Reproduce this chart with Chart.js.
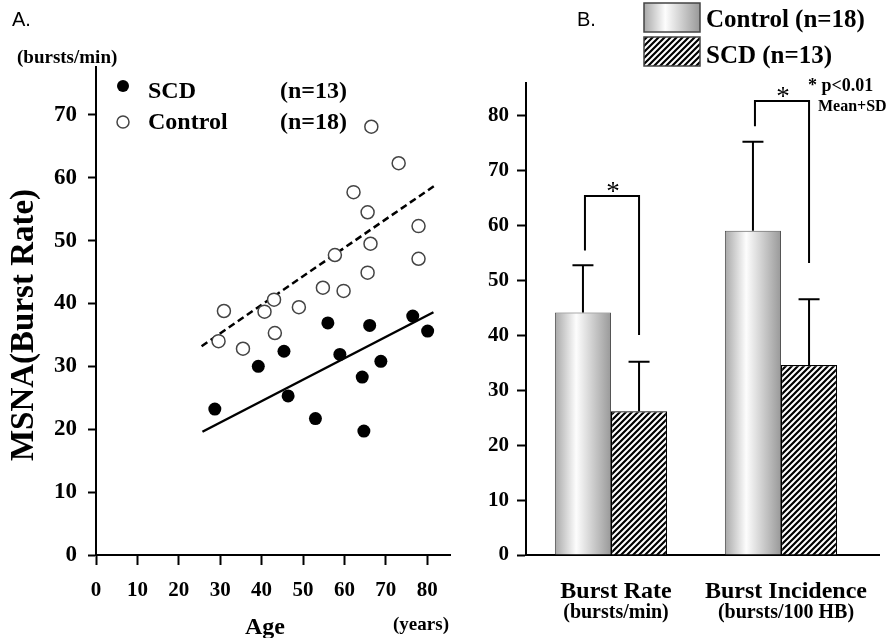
<!DOCTYPE html>
<html>
<head>
<meta charset="utf-8">
<script src="https://cdn.jsdelivr.net/npm/chart.js@4.4.1/dist/chart.umd.min.js"></script>
<style>
  html, body { margin: 0; padding: 0; background: #fff; }
  #wrap { position: relative; width: 894px; height: 638px; overflow: hidden; }
  canvas { position: absolute; top: 0; }
  #left { left: 0; }
  #right { left: 480px; }
</style>
</head>
<body>
<div id="wrap">
  <canvas id="left" width="480" height="638"></canvas>
  <canvas id="right" width="414" height="638"></canvas>
</div>
<script>
// panel A - MSNA burst rate vs age
const scdAge = [28.7, 39.2, 45.4, 46.4, 53.0, 56.0, 58.9, 64.3, 64.7, 66.1, 68.8, 76.5, 80.1];
const scdRate = [23.2, 30.0, 32.4, 25.3, 21.7, 36.9, 31.9, 28.3, 19.7, 36.5, 30.8, 38.0, 35.6];
const controlAge = [66.5, 73.1, 62.2, 65.6, 77.9, 66.3, 57.7, 77.9, 65.6, 54.8, 59.8, 49.0, 43.0, 30.9, 40.7, 43.2, 29.6, 35.5];
const controlRate = [68.1, 62.3, 57.7, 54.5, 52.3, 49.5, 47.7, 47.1, 44.9, 42.5, 42.0, 39.4, 40.6, 38.8, 38.7, 35.3, 34.0, 32.8];
const scdFitAge = [25.7, 81.5];
const scdFit = [19.6, 38.6];
const controlFitAge = [25.5, 81.7];
const controlFit = [33.2, 58.7];

// panel B - group means + SD
const groups = ['Burst Rate', 'Burst Incidence'];
const groupUnits = ['(bursts/min)', '(bursts/100 HB)'];
const controlMean = [44.2, 59.1];
const controlSD = [8.6, 16.2];
const scdMean = [26.2, 34.6];
const scdSD = [9.0, 12.0];
const bracketTop = [65.4, 82.7];
const bracketLeftEnd = [55.5, 78.1];
const bracketRightEnd = [40.1, 53.2];

const serif = '"Liberation Serif", "Times New Roman", serif';
const sans = '"Liberation Sans", Arial, sans-serif';
Chart.defaults.font.family = serif;
Chart.defaults.color = '#000';

const pts = (xs, ys) => xs.map((x, i) => ({ x: x, y: ys[i] }));

const axisTicks = (len) => ({ drawOnChartArea: false, tickLength: len, tickColor: '#000', tickWidth: 2 });
const axisBorder = { color: '#000', width: 2 };

const panelA = {
  id: 'panelA',
  afterDraw(chart) {
    const ctx = chart.ctx;
    ctx.save();
    ctx.fillStyle = '#000';
    ctx.textBaseline = 'alphabetic';
    ctx.textAlign = 'left';
    ctx.font = '20px ' + sans;
    ctx.fillText('A.', 12, 26);
    ctx.font = 'bold 19px ' + serif;
    ctx.fillText('(bursts/min)', 17, 63);

    // legend
    ctx.beginPath();
    ctx.arc(123, 86, 6, 0, Math.PI * 2);
    ctx.fill();
    ctx.beginPath();
    ctx.arc(123, 122, 6, 0, Math.PI * 2);
    ctx.fillStyle = '#fff';
    ctx.fill();
    ctx.strokeStyle = '#444';
    ctx.lineWidth = 1.5;
    ctx.stroke();
    ctx.fillStyle = '#000';
    ctx.font = 'bold 24px ' + serif;
    ctx.fillText('SCD', 148, 98);
    ctx.fillText('(n=13)', 280, 98);
    ctx.fillText('Control', 148, 129);
    ctx.fillText('(n=18)', 280, 129);

    // axis titles
    ctx.textAlign = 'center';
    ctx.font = 'bold 24px ' + serif;
    ctx.fillText('Age', 265, 634);
    ctx.font = 'bold 19px ' + serif;
    ctx.fillText('(years)', 421, 630);

    ctx.translate(24, 325);
    ctx.rotate(-Math.PI / 2);
    ctx.textBaseline = 'middle';
    ctx.font = 'bold 33px ' + serif;
    ctx.fillText('MSNA(Burst Rate)', 0, 0);
    ctx.restore();
  }
};

new Chart(document.getElementById('left'), {
  type: 'scatter',
  data: {
    datasets: [
      { label: 'SCD', data: pts(scdAge, scdRate), pointRadius: 6.5, pointBackgroundColor: '#000', pointBorderColor: '#000', pointBorderWidth: 0 },
      { label: 'Control', data: pts(controlAge, controlRate), pointRadius: 6.5, pointBackgroundColor: '#fff', pointBorderColor: '#444', pointBorderWidth: 1.5 },
      { type: 'line', data: pts(scdFitAge, scdFit), borderColor: '#000', borderWidth: 2.5, pointRadius: 0, fill: false },
      { type: 'line', data: pts(controlFitAge, controlFit), borderColor: '#000', borderWidth: 2.5, borderDash: [7, 4], pointRadius: 0, fill: false }
    ]
  },
  options: {
    responsive: false,
    animation: false,
    events: [],
    layout: { padding: { top: 67, right: 30, left: 0, bottom: 0 } },
    plugins: { legend: { display: false }, tooltip: { enabled: false } },
    scales: {
      x: {
        type: 'linear', min: 0, max: 85.5,
        afterFit: (s) => { s.height = 83; },
        ticks: { stepSize: 10, includeBounds: false, autoSkip: false, maxRotation: 0, padding: 13, font: { size: 21, weight: 'bold' } },
        grid: axisTicks(10),
        border: axisBorder
      },
      y: {
        min: 0, max: 77.6,
        afterFit: (s) => { s.width = 96; },
        ticks: { stepSize: 10, includeBounds: false, autoSkip: false, padding: 11, font: { size: 23, weight: 'bold' } },
        grid: axisTicks(8),
        border: axisBorder
      }
    }
  },
  plugins: [panelA]
});

// fills for panel B
function barGradient(ctx, l, r) {
  const g = ctx.createLinearGradient(l, 0, r, 0);
  g.addColorStop(0, '#a8a8a8');
  g.addColorStop(0.38, '#fdfdfd');
  g.addColorStop(1, '#999999');
  return g;
}

function makeHatch(ctx) {
  const c = document.createElement('canvas');
  c.width = 6; c.height = 6;
  const g = c.getContext('2d');
  g.fillStyle = '#fff';
  g.fillRect(0, 0, 6, 6);
  g.strokeStyle = '#000';
  g.lineWidth = 2.2;
  g.beginPath();
  g.moveTo(-1, 7); g.lineTo(7, -1);
  g.moveTo(-4, 4); g.lineTo(4, -4);
  g.moveTo(2, 10); g.lineTo(10, 2);
  g.stroke();
  return ctx.createPattern(c, 'repeat');
}

const catPct = 0.66;
const rightCanvas = document.getElementById('right');
const hatch = makeHatch(rightCanvas.getContext('2d'));

function controlFill(c) {
  const xs = c.chart.scales.x;
  if (!xs || c.dataIndex === undefined) return '#d8d8d8';
  const center = xs.getPixelForValue(c.dataIndex);
  const groupW = (xs.width / groups.length) * catPct;
  if (!Number.isFinite(center) || !Number.isFinite(groupW) || groupW <= 0) return '#d8d8d8';
  return barGradient(c.chart.ctx, center - groupW / 2, center);
}

const panelB = {
  id: 'panelB',
  afterDatasetsDraw(chart) {
    const ctx = chart.ctx, y = chart.scales.y;
    const means = [controlMean, scdMean], sds = [controlSD, scdSD];
    ctx.save();
    ctx.strokeStyle = '#000';
    ctx.lineWidth = 2;
    means.forEach((m, d) => {
      chart.getDatasetMeta(d).data.forEach((bar, i) => {
        const top = y.getPixelForValue(m[i] + sds[d][i]);
        ctx.beginPath();
        ctx.moveTo(bar.x, bar.y);
        ctx.lineTo(bar.x, top);
        ctx.moveTo(bar.x - 10.5, top);
        ctx.lineTo(bar.x + 10.5, top);
        ctx.stroke();
      });
    });

    // significance brackets
    const c0 = chart.getDatasetMeta(0).data, c1 = chart.getDatasetMeta(1).data;
    ctx.fillStyle = '#000';
    ctx.textAlign = 'center';
    ctx.textBaseline = 'alphabetic';
    ctx.font = '27px ' + serif;
    groups.forEach((g, i) => {
      const xl = c0[i].x + 2, xr = c1[i].x, yt = y.getPixelForValue(bracketTop[i]);
      ctx.beginPath();
      ctx.moveTo(xl, y.getPixelForValue(bracketLeftEnd[i]));
      ctx.lineTo(xl, yt);
      ctx.lineTo(xr, yt);
      ctx.lineTo(xr, y.getPixelForValue(bracketRightEnd[i]));
      ctx.stroke();
      ctx.fillText('*', (xl + xr) / 2 + 1, yt + 4);
    });
    ctx.restore();
  },
  afterDraw(chart) {
    const ctx = chart.ctx, xs = chart.scales.x, area = chart.chartArea;
    ctx.save();
    // x axis runs a bit past the last group
    ctx.strokeStyle = '#000';
    ctx.lineWidth = 2;
    ctx.beginPath();
    ctx.moveTo(area.right - 2, area.bottom);
    ctx.lineTo(area.right + 14, area.bottom);
    ctx.stroke();

    ctx.fillStyle = '#000';
    ctx.textBaseline = 'alphabetic';
    ctx.textAlign = 'left';
    ctx.font = '20px ' + sans;
    ctx.fillText('B.', 97, 26);

    // legend
    const fills = [barGradient(ctx, 164, 220), hatch];
    chart.data.datasets.forEach((ds, i) => {
      const top = 3 + i * 34;
      ctx.fillStyle = fills[i];
      ctx.fillRect(164, top, 56, 29);
      ctx.strokeStyle = '#444';
      ctx.lineWidth = 1.5;
      ctx.strokeRect(164, top, 56, 29);
      ctx.fillStyle = '#000';
      ctx.font = 'bold 25px ' + serif;
      ctx.fillText(ds.label, 226, 27 + i * 36);
    });

    ctx.font = 'bold 18px ' + serif;
    ctx.fillText('* p<0.01', 328, 91);
    ctx.font = 'bold 16px ' + serif;
    ctx.fillText('Mean+SD', 338, 111);

    // category labels
    ctx.textAlign = 'center';
    groups.forEach((g, i) => {
      const cx = xs.getPixelForValue(i) + 5;
      ctx.font = 'bold 24px ' + serif;
      ctx.fillText(g, cx, 598);
      ctx.font = 'bold 20px ' + serif;
      ctx.fillText(groupUnits[i], cx, 618);
    });
    ctx.restore();
  }
};

new Chart(rightCanvas, {
  type: 'bar',
  data: {
    labels: groups,
    datasets: [
      { label: 'Control (n=18)', data: controlMean, backgroundColor: controlFill, borderColor: '#555', borderWidth: 1, categoryPercentage: catPct, barPercentage: 1 },
      { label: 'SCD (n=13)', data: scdMean, backgroundColor: hatch, borderColor: '#000', borderWidth: 1.2, categoryPercentage: catPct, barPercentage: 1 }
    ]
  },
  options: {
    responsive: false,
    animation: false,
    events: [],
    layout: { padding: { top: 83, right: 28, left: 0, bottom: 0 } },
    plugins: { legend: { display: false }, tooltip: { enabled: false } },
    scales: {
      x: {
        afterFit: (s) => { s.height = 83; },
        ticks: { display: false },
        grid: { display: false },
        border: axisBorder
      },
      y: {
        min: 0, max: 86,
        afterFit: (s) => { s.width = 46; },
        ticks: { stepSize: 10, includeBounds: false, autoSkip: false, padding: 8, font: { size: 21, weight: 'bold' } },
        grid: axisTicks(9),
        border: axisBorder
      }
    }
  },
  plugins: [panelB]
});
</script>
</body>
</html>
